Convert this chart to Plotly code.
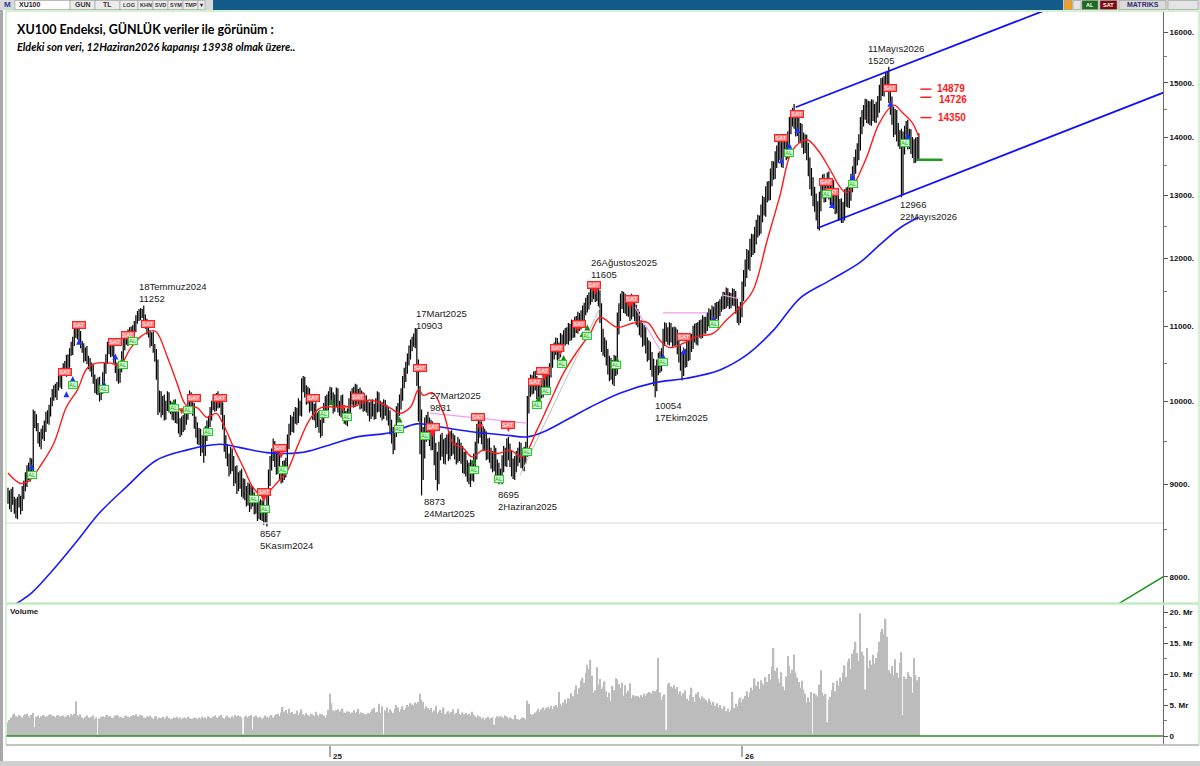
import numpy as np
import pandas as pd
import plotly.graph_objects as go

LAST_DAY = "2026-06-12"
BAYRAM_2026 = ["2026-05-26", "2026-05-27", "2026-05-28", "2026-05-29"]
FIRST_OPEN = 8900

# daily closes, month by month
close_2024 = [
    8850, 8780, 8900, 8820, 8750, 8680, 8800,
    8820, 8750, 8900, 8980, 9050, 9180, 9100, 9250, 9200, 9820, 9750, 9680, 9550, 9500, 9620, 9580, 9700, 9820, 9780, 9900, 10000, 10080,
    10150, 10100, 10200, 10300, 10250, 10380, 10450, 10400, 10550, 10500, 10650, 10700, 10800, 10950, 10900, 11000, 10850, 10750, 10700, 10600, 10650, 10550, 10500,
    10450, 10400, 10300, 10200, 10150, 10250, 10080, 10150, 10300, 10450, 10550, 10700, 10750, 10650, 10700, 10550, 10450, 10350, 10300, 10450,
    10600, 10750, 10850, 10800, 10900, 10850, 10950, 10900, 11000, 11100, 11150, 11200, 11180, 11220, 11100, 11050, 10950, 10900, 10800, 10850, 10700, 10600, 10400,
    9950, 10050, 9900, 10000, 9850, 9950, 10050, 9950, 9900, 9850, 9950, 9800, 9850, 9700, 9650, 9750, 9700, 9800, 9850, 9950, 10050, 9980,
    9900, 9750, 9650, 9550, 9600, 9450, 9500, 9400, 9600, 9700, 9750, 9850, 9950, 10000, 9950, 10050, 10000, 10020, 9900, 9750, 9500,
    9400, 9300, 9200, 9350, 9250, 9100, 9150, 9000, 9050, 9100, 8950, 9000, 8900, 8850, 8950, 8800, 8900, 8850, 8750, 8800, 8700, 8750, 8680,
    8750, 8650, 8620, 8800, 9050, 9250, 9350, 9450, 9300, 9200, 9350, 9150, 9100, 9200, 9150, 9250, 9500, 9650, 9750, 9700, 9800,
    9850, 9800, 9950, 9900, 10200, 10250, 10150, 10050, 10100, 9950, 10000, 9850, 9900, 9750, 9800, 9700, 9650, 9800, 9900, 10000, 9950, 10050,
]
close_2025 = [
    10100, 10050, 9950, 10000, 10100, 9950, 9900, 10000, 9850, 9800, 9780, 9850, 9950, 10050, 10100, 10000, 10150, 10050, 10100, 10000, 10050, 9950, 10000,
    9950, 9900, 9850, 9950, 9900, 9850, 9950, 10050, 9950, 9900, 9850, 9950, 9900, 9850, 9800, 9700, 9600, 9500, 9650, 9850,
    9900, 10000, 10100, 10250, 10350, 10450, 10550, 10650, 10750, 10800, 10880, 10850, 10400, 10000, 9650, 9300, 9500, 9650, 9750, 9700, 9600,
    9650, 9550, 9400, 9250, 9150, 9400, 9500, 9450, 9350, 9450, 9500, 9400, 9550, 9450, 9500, 9400, 9350, 9450, 9400, 9350, 9250, 9300,
    9200, 9150, 9100, 9200, 9150, 9250, 9400, 9600, 9700, 9650, 9600, 9500, 9550, 9400, 9450, 9350, 9300, 9250, 9350, 9200, 9150, 9100,
    9100, 9250, 9350, 9300, 9450, 9400, 9300, 9200, 9150, 9250, 9300, 9350, 9400, 9300, 9250, 9350, 9400, 9950, 10150, 10250, 10200,
    10300, 10250, 10150, 10100, 10200, 10150, 10250, 10300, 10350, 10250, 10400, 10550, 10650, 10700, 10750, 10650, 10700, 10800, 10750, 10850, 10900, 10850, 10950,
    10900, 11000, 10950, 11050, 11000, 11100, 11050, 11150, 11200, 11250, 11300, 11350, 11400, 11450, 11500, 11550, 11450, 11500, 11400, 11200, 10850,
    10750, 10700, 10600, 10500, 10400, 10450, 10350, 10500, 10450, 11000, 11200, 11350, 11400, 11300, 11350, 11250, 11300, 11200, 11350, 11250, 11200, 11150,
    11100, 11000, 10950, 10850, 10900, 10750, 10650, 10700, 10550, 10450, 10350, 10250, 10450, 10550, 10500, 10600, 10850, 10950, 10900, 10850, 10950, 10900, 10850,
    10900, 10850, 10750, 10650, 10550, 10450, 10600, 10550, 10700, 10650, 10750, 10800, 10900, 10950, 10850, 10950, 11000, 10950, 11050, 11000,
    11050, 11100, 11150, 11100, 11200, 11150, 11250, 11200, 11250, 11300, 11350, 11400, 11350, 11450, 11400, 11350, 11400, 11450, 11400, 11300, 11200, 11150, 11250,
]
close_2026 = [
    11500, 11700, 11850, 12000, 11950, 12150, 12250, 12200, 12350, 12450, 12550, 12500, 12700, 12850, 12800, 13000, 13100, 13050, 13300, 13450, 13400, 13600,
    13700, 13850, 13750, 13600, 13800, 13900, 13750, 13950, 14200, 14350, 14450, 14300, 14150, 14250, 14050, 14100, 13950, 13850, 13900, 13750,
    13500, 13300, 13150, 13000, 12900, 12750, 12600, 12900, 13100, 13200, 13050, 13150, 13250, 13100, 13000, 13100, 12950, 12850, 12900, 12750, 12800, 12700,
    12750, 12950, 13000, 12950, 13050, 13200, 13350, 13500, 13650, 13750, 13900, 14200, 14350, 14450, 14550, 14400, 14500, 14350, 14550, 14450, 14400, 14500,
    14600, 14800, 14950, 14900, 15000, 15050, 15150, 14800, 14600, 14400, 14200, 14350, 14100, 14000, 13950, 13200, 13850,
    14050, 14150, 13950, 14000, 13850, 13800, 13700, 13850, 13750, 13938,
]

# wick above max(open, close) and below min(open, close), in points
wick_up_2024 = [
    60, 80, 50, 70, 40, 90, 60,
    70, 50, 80, 60, 90, 40, 70, 60, 50, 80, 60, 90, 50, 70, 40, 80, 60, 50, 70, 60, 50, 80,
    60, 80, 50, 70, 90, 60, 50, 80, 60, 70, 50, 90, 60, 80, 50, 70, 60, 90, 50, 70, 60, 80, 50,
    70, 60, 80, 50, 90, 60, 70, 50, 80, 60, 70, 90, 50, 60, 80, 70, 50, 60, 90, 70,
    60, 80, 50, 70, 60, 90, 50, 70, 80, 60, 70, 50, 60, 32, 80, 70, 60, 90, 50, 70, 80, 60, 90,
    150, 90, 80, 70, 90, 60, 80, 70, 60, 90, 70, 80, 60, 70, 90, 60, 80, 70, 60, 80, 90, 70,
    70, 80, 60, 90, 70, 60, 80, 70, 90, 60, 70, 80, 60, 90, 70, 60, 80, 70, 60, 90, 80,
    80, 70, 60, 90, 70, 80, 60, 70, 90, 60, 80, 70, 60, 80, 70, 60, 90, 70, 60, 80, 70, 60, 80,
    70, 80, 60, 90, 120, 80, 70, 90, 60, 80, 70, 90, 60, 70, 80, 60, 90, 70, 80, 60, 70,
    80, 70, 90, 60, 100, 80, 70, 60, 90, 70, 80, 60, 70, 90, 60, 80, 70, 60, 80, 70, 90, 80,
]
wick_dn_2024 = [
    70, 60, 90, 50, 80, 60, 70,
    60, 90, 50, 70, 60, 80, 50, 70, 90, 60, 80, 50, 70, 60, 90, 50, 70, 80, 60, 70, 90, 60,
    70, 50, 80, 60, 70, 90, 50, 60, 80, 70, 60, 50, 90, 70, 60, 80, 70, 50, 60, 90, 70, 60, 80,
    60, 80, 70, 90, 60, 70, 80, 60, 50, 70, 90, 60, 80, 70, 60, 50, 80, 90, 70, 60,
    70, 60, 80, 50, 70, 60, 90, 70, 50, 80, 60, 70, 90, 60, 70, 80, 60, 50, 90, 70, 60, 80, 120,
    120, 90, 100, 70, 90, 80, 70, 90, 60, 80, 90, 70, 80, 100, 90, 70, 80, 60, 90, 80, 70, 90,
    80, 90, 100, 80, 90, 120, 80, 150, 70, 90, 80, 70, 90, 60, 80, 70, 90, 80, 70, 100, 120,
    100, 90, 110, 80, 100, 120, 90, 110, 80, 100, 90, 110, 80, 100, 90, 110, 80, 100, 90, 80, 110, 90, 80,
    90, 100, 53, 90, 80, 70, 90, 80, 100, 90, 80, 100, 90, 80, 100, 70, 80, 90, 70, 80, 90,
    80, 90, 70, 80, 90, 80, 100, 90, 80, 90, 70, 80, 90, 80, 70, 90, 100, 80, 70, 90, 80, 70,
]
wick_up_2025 = [
    90, 80, 70, 90, 80, 70, 60, 80, 90, 70, 80, 60, 90, 80, 70, 90, 80, 70, 60, 80, 90, 70, 80,
    80, 70, 90, 60, 80, 70, 90, 80, 70, 60, 90, 80, 70, 60, 80, 90, 70, 80, 60, 90,
    80, 90, 70, 80, 90, 70, 80, 90, 70, 60, 23, 100, 120, 150, 200, 250, 180, 150, 81, 120, 100,
    120, 100, 110, 90, 130, 100, 90, 110, 80, 100, 90, 110, 80, 90, 100, 80, 90, 110, 80, 90, 100, 80,
    90, 80, 100, 90, 80, 110, 100, 120, 90, 80, 100, 90, 110, 80, 90, 100, 80, 90, 110, 80, 90, 100,
    80, 90, 100, 80, 90, 110, 80, 90, 100, 80, 90, 80, 100, 90, 80, 90, 100, 120, 110, 100, 90,
    90, 100, 80, 90, 100, 80, 90, 110, 80, 90, 100, 110, 90, 80, 100, 90, 80, 110, 90, 100, 80, 90, 100,
    90, 100, 80, 90, 100, 110, 90, 80, 100, 90, 110, 100, 90, 100, 110, 40, 100, 105, 110, 120, 130,
    120, 100, 110, 90, 100, 120, 90, 110, 100, 200, 130, 120, 110, 100, 120, 90, 110, 100, 120, 100, 90, 110,
    100, 110, 90, 100, 120, 90, 100, 110, 90, 100, 110, 120, 100, 90, 110, 100, 120, 110, 100, 90, 110, 100, 90,
    100, 90, 110, 100, 90, 100, 110, 90, 100, 110, 90, 100, 110, 90, 100, 110, 90, 100, 110, 90,
    90, 100, 110, 90, 100, 80, 90, 100, 110, 90, 80, 100, 90, 110, 100, 90, 80, 100, 90, 110, 100, 90, 100,
]
wick_dn_2025 = [
    80, 90, 100, 80, 70, 90, 80, 100, 90, 80, 70, 90, 80, 100, 90, 80, 70, 90, 80, 100, 90, 80, 70,
    90, 80, 100, 70, 90, 80, 70, 90, 80, 100, 90, 70, 80, 90, 100, 110, 120, 150, 100, 90,
    90, 80, 100, 90, 80, 100, 90, 80, 100, 90, 80, 150, 200, 250, 300, 427, 250, 200, 150, 180, 150,
    200, 150, 180, 200, 220, 150, 120, 130, 110, 120, 100, 130, 110, 120, 100, 110, 120, 100, 130, 110, 120, 130,
    110, 120, 100, 130, 110, 120, 100, 110, 120, 100, 130, 110, 100, 120, 110, 100, 120, 110, 100, 120, 110, 100,
    80, 100, 110, 90, 100, 120, 100, 110, 90, 100, 110, 90, 100, 110, 90, 100, 110, 80, 100, 90, 110,
    100, 110, 120, 100, 90, 110, 100, 90, 110, 120, 100, 90, 110, 100, 90, 110, 100, 120, 90, 100, 110, 90, 100,
    100, 90, 110, 100, 90, 100, 110, 90, 100, 110, 90, 100, 110, 90, 100, 110, 100, 90, 110, 150, 200,
    150, 120, 130, 150, 140, 120, 130, 150, 120, 100, 110, 120, 100, 110, 120, 100, 110, 120, 100, 110, 120, 130,
    110, 120, 100, 130, 110, 120, 130, 110, 140, 130, 150, 196, 120, 110, 130, 110, 100, 120, 110, 100, 110, 120, 130,
    120, 110, 130, 140, 150, 180, 120, 110, 100, 120, 110, 100, 110, 120, 100, 110, 100, 120, 110, 100,
    100, 110, 100, 120, 100, 110, 100, 90, 110, 100, 90, 110, 100, 90, 110, 100, 90, 100, 110, 120, 150, 130, 100,
]
wick_up_2026 = [
    150, 120, 130, 140, 120, 150, 130, 120, 140, 150, 130, 120, 150, 140, 120, 150, 130, 140, 150, 130, 120, 150,
    150, 130, 140, 160, 150, 130, 140, 150, 160, 130, 80, 150, 140, 160, 130, 150, 140, 130, 150, 140,
    150, 140, 160, 150, 140, 130, 150, 160, 140, 150, 160, 140, 130, 150, 140, 160, 150, 140, 130, 150, 140, 150,
    140, 150, 130, 140, 150, 160, 140, 150, 130, 140, 150, 160, 140, 130, 150, 140, 160, 150, 140, 130, 150, 140,
    150, 160, 140, 150, 130, 140, 55, 160, 150, 140, 150, 160, 140, 150, 120, 200, 250,
    150, 140, 160, 150, 140, 150, 160, 140, 150, 130,
]
wick_dn_2026 = [
    120, 140, 130, 150, 120, 140, 130, 150, 120, 140, 130, 150, 120, 140, 130, 150, 120, 140, 130, 150, 140, 130,
    140, 150, 160, 130, 140, 150, 160, 130, 140, 150, 160, 150, 140, 130, 150, 160, 140, 150, 130, 160,
    180, 200, 160, 180, 170, 160, 150, 170, 160, 150, 170, 160, 150, 170, 160, 150, 170, 160, 150, 170, 160, 150,
    150, 160, 140, 150, 160, 140, 150, 160, 140, 150, 160, 140, 150, 160, 140, 150, 160, 140, 150, 160, 140, 150,
    150, 160, 140, 150, 160, 140, 150, 180, 200, 180, 200, 160, 180, 170, 160, 234, 200,
    160, 150, 170, 160, 150, 170, 160, 150, 170, 160,
]

# volume, milyar TL
volume_2024 = [
    2.2, 2.6, 3.0, 3.4, 3.6, 3.2, 3.1,
    3.4, 3.2, 3.0, 3.3, 3.5, 3.6, 3.2, 3.0, 3.4, 3.7, 1.4, 3.1, 3.3, 2.9, 3.2, 3.4, 3.3, 3.1, 3.2, 3.4, 3.5, 3.3,
    3.2, 3.0, 3.3, 3.4, 3.1, 3.2, 3.3, 3.0, 3.2, 3.4, 3.1, 3.5, 3.3, 3.6, 5.6, 3.4, 3.2, 3.5, 3.0, 2.8, 3.1, 3.3, 3.0,
    2.9, 3.1, 3.3, 2.7, 3.0, 0.2, 2.8, 3.1, 3.2, 3.0, 3.3, 3.4, 3.1, 3.2, 2.9, 3.0, 3.3, 3.4, 3.2, 3.0,
    3.1, 2.9, 3.2, 3.3, 3.1, 3.0, 3.2, 3.4, 3.3, 3.5, 3.2, 3.1, 3.4, 3.3, 3.0, 2.9, 3.2, 3.1, 3.3, 3.0, 2.8, 3.1, 3.2,
    2.7, 3.0, 2.9, 3.1, 2.8, 3.0, 3.2, 2.9, 2.7, 2.8, 3.0, 2.9, 3.1, 2.8, 3.0, 2.7, 2.9, 3.0, 2.8, 3.1, 2.9, 2.8,
    2.8, 3.0, 2.9, 2.7, 3.0, 2.8, 3.1, 2.9, 3.0, 2.8, 3.2, 3.0, 2.9, 3.1, 3.3, 3.0, 2.9, 3.2, 3.4, 3.0, 2.8,
    3.1, 3.3, 3.0, 2.9, 3.2, 3.0, 3.4, 3.1, 3.3, 3.2, 3.0, 0.3, 3.1, 3.3, 3.0, 3.2, 3.4, 1.0, 3.1, 3.3, 3.0, 2.9, 3.1,
    2.8, 3.0, 3.3, 3.1, 2.9, 3.2, 3.4, 3.0, 3.3, 3.5, 3.6, 3.2, 3.8, 4.7, 3.9, 4.2, 3.6, 4.4, 3.7, 3.9, 3.5,
    3.6, 4.1, 3.4, 3.8, 4.3, 3.5, 3.3, 3.7, 3.4, 3.2, 3.6, 3.5, 3.3, 3.9, 3.4, 3.2, 3.6, 3.5, 3.3, 2.9, 3.4, 4.2,
]
volume_2025 = [
    6.8, 5.3, 4.1, 4.0, 4.2, 4.3, 3.9, 4.1, 4.4, 3.8, 3.7, 4.0, 3.9, 3.6, 3.8, 4.2, 3.7, 3.9, 4.4, 3.6, 3.8, 3.7, 3.5,
    3.5, 3.7, 3.6, 3.9, 4.3, 4.5, 3.8, 3.9, 5.2, 3.7, 4.8, 0.3, 4.1, 4.6, 3.8, 4.3, 4.0, 3.7, 4.4, 5.0,
    4.6, 3.9, 4.3, 4.8, 4.2, 4.5, 5.0, 4.7, 5.3, 5.1, 4.9, 5.4, 5.2, 5.5, 6.8, 5.8, 5.5, 4.4, 4.8, 4.5, 4.2,
    4.5, 3.8, 4.1, 4.9, 3.6, 3.9, 4.2, 3.7, 4.6, 3.5, 3.8, 4.0, 3.6, 3.9, 4.3, 3.5, 3.7, 4.4, 3.6, 3.4, 3.8, 3.5,
    3.7, 3.4, 3.6, 3.3, 3.9, 3.5, 3.2, 3.0, 3.3, 3.1, 2.8, 3.0, 2.6, 2.9, 3.1, 2.7, 2.9, 3.0, 1.8, 2.9, 3.2, 3.0,
    3.2, 3.1, 2.9, 3.3, 3.1, 2.8, 3.0, 2.9, 2.7, 3.4, 2.8, 2.7, 2.6, 2.8, 3.0, 2.9, 2.7, 5.7, 5.2, 3.6, 3.4,
    3.5, 3.8, 4.0, 4.4, 3.9, 4.3, 4.6, 4.2, 4.5, 4.7, 4.4, 4.9, 4.3, 4.8, 5.0, 4.6, 7.1, 5.2, 4.8, 5.4, 5.9, 5.3, 6.1,
    6.0, 6.9, 6.4, 7.5, 8.2, 6.8, 7.7, 8.9, 9.4, 8.6, 10.2, 11.5, 10.8, 12.3, 9.7, 7.0, 7.4, 11.1, 8.3, 9.2, 7.6,
    7.9, 8.8, 7.2, 6.3, 7.0, 5.6, 8.1, 7.4, 9.3, 9.1, 8.4, 7.8, 8.6, 6.5, 8.2, 6.9, 7.3, 8.5, 6.1, 6.6, 6.4, 6.5,
    6.4, 6.2, 6.6, 6.3, 6.8, 6.5, 6.9, 7.1, 7.0, 6.8, 7.3, 7.2, 7.5, 12.6, 7.0, 5.8, 6.4, 6.7, 1.0, 8.3, 8.6, 8.0, 7.8,
    8.2, 7.6, 7.9, 6.8, 7.2, 6.5, 6.9, 7.4, 6.0, 5.7, 6.6, 7.8, 6.3, 5.5, 6.8, 7.1, 6.2, 5.9, 6.4, 6.1,
    5.8, 5.4, 6.0, 5.6, 5.1, 5.5, 4.9, 5.3, 4.6, 5.0, 4.5, 4.3, 4.8, 4.0, 4.4, 3.9, 4.2, 7.1, 4.5, 5.2, 4.8, 5.9, 6.2,
]
volume_2026 = [
    5.5, 6.0, 6.5, 7.2, 6.3, 7.0, 7.8, 7.4, 9.3, 8.1, 8.8, 7.6, 9.0, 8.5, 8.2, 9.5, 8.7, 10.0, 9.1, 11.2, 14.2, 10.5,
    11.0, 9.2, 8.6, 10.3, 8.0, 7.4, 9.6, 12.9, 11.3, 10.1, 10.7, 13.1, 10.2, 9.4, 8.7, 7.8, 8.9, 7.5, 6.8, 5.4,
    6.2, 5.5, 7.1, 0.4, 6.9, 6.6, 6.4, 8.3, 10.6, 7.0, 6.5, 6.8, 2.2, 5.9, 6.3, 7.4, 8.6, 7.2, 8.9, 8.1, 9.4, 8.8,
    10.2, 11.4, 9.5, 12.0, 12.5, 10.8, 13.3, 14.0, 15.2, 13.4, 12.1, 19.8, 13.6, 13.0, 7.5, 14.2, 11.0, 12.2, 11.5, 13.1, 11.7, 12.6,
    13.5, 15.2, 16.8, 17.3, 16.5, 18.9, 16.0, 10.6, 10.1, 11.3, 9.8, 12.4, 10.2, 9.4, 11.8, 13.5, 3.4,
    9.6, 9.2, 10.3, 9.8, 9.5, 7.0, 12.6, 9.8, 9.0, 9.5,
]

# moving averages (bar number, level)
red_ma_bar = [0, 8, 14, 20, 29, 37, 44, 50, 56, 65, 71, 77, 84, 93, 101, 107, 113, 120, 126, 132, 136, 143, 149,
              155, 160, 164, 170, 177, 183, 191, 198, 210, 221, 229, 242, 248, 255, 260, 263, 269, 276, 282, 288,
              294, 301, 310, 318, 326, 335, 343, 352, 360, 369, 375, 386, 396, 405, 413, 419, 428, 436, 447, 455,
              464, 472, 481, 489, 497, 506, 513, 521, 527, 531, 535, 544, 552, 561, 567, 573, 577]
red_ma_val = [9130, 9010, 9050, 9200, 9480, 9930, 10150, 10430, 10500, 10500, 10470, 10680, 10860, 10940, 10580,
              10240, 9950, 9920, 9800, 9850, 9730, 9430, 9200, 8970, 8880, 8900, 9010, 9160, 9430, 9770, 9920, 9930,
              9950, 10020, 9920, 9850, 9930, 10150, 10080, 10110, 9850, 9480, 9430, 9320, 9400, 9360, 9400, 9320,
              9640, 9980, 10370, 10640, 10910, 11130, 10990, 11050, 11060, 10810, 10710, 10770, 10860, 10910, 11090,
              11280, 11520, 12280, 12990, 13770, 13950, 13770, 13420, 13140, 13040, 13140, 13650, 14250, 14580,
              14430, 14250, 14000]
blue_ma_bar = [0, 7, 15, 30, 44, 58, 75, 94, 113, 134, 147, 164, 185, 200, 221, 242, 259, 274, 295, 316, 329, 339,
               354, 369, 388, 409, 430, 451, 468, 485, 502, 521, 540, 552, 565, 577]
blue_ma_val = [7680, 7750, 7840, 8100, 8380, 8680, 8970, 9280, 9400, 9470, 9430, 9370, 9370, 9440, 9560, 9610,
               9720, 9680, 9620, 9580, 9560, 9620, 9770, 9930, 10110, 10240, 10300, 10410, 10610, 10950, 11410,
               11670, 11940, 12200, 12470, 12640]

# AL / SAT signals (bar number, level)
sat_bar = [45, 36, 68, 76, 89, 118, 134, 162, 172, 193, 222, 261, 269, 298, 317, 334, 339, 348, 362, 371, 395, 428,
           490, 500, 518, 522, 559]
sat_val = [11020, 10380, 10790, 10880, 11035, 10050, 10050, 8910, 9420, 10050, 10060, 10430, 9680, 9810, 9700,
           10250, 10390, 10710, 11040, 11600, 11390, 10850, 13990, 14420, 13220, 13050, 14900]
al_bar = [15, 41, 61, 73, 79, 105, 114, 127, 156, 163, 174, 200, 215, 248, 264, 295, 311, 329, 335, 341, 351, 367,
          385, 415, 447, 495, 519, 535, 568]
al_val = [9107, 10210, 10160, 10474, 10800, 9920, 9890, 9620, 8830, 8720, 9165, 9840, 9810, 9660, 9570, 9165, 9060,
          9380, 9954, 10130, 10490, 10870, 10474, 10520, 11030, 13720, 13020, 13190, 13900]
blue_up_bar = [15, 37, 41, 45, 61, 68, 415, 428, 447, 490, 495, 500, 522, 535, 559, 570]
blue_up_val = [9240, 10130, 10330, 10830, 10260, 10630, 10630, 10700, 11150, 13640, 13900, 14180, 12890, 13360,
               14660, 14070]
red_dn_bar = [88, 110, 117, 133, 162, 173, 193, 212, 222, 261, 269, 299, 317, 334, 340, 350, 361, 372, 394]
red_dn_val = [10980, 9840, 9980, 9950, 8800, 9300, 10000, 9880, 9990, 10370, 9560, 9640, 9620, 10190, 10275, 10610,
              10925, 11460, 11250]
green_up_bar = [72, 105, 126, 174, 205, 248, 295, 311, 329, 336, 341, 352, 364, 367, 386]
green_up_val = [10570, 10030, 9700, 9240, 10030, 9810, 9300, 9120, 9440, 10070, 10210, 10610, 10940, 11030, 10580]

# drawn trend lines: (bar0, level0, bar1, level1, colour, width)
trend_lines = [
    (499, 14540, 700, 17010, "#1010ff", 1.8),
    (513, 12470, 735, 14850, "#1010ff", 1.8),
    (698, 7680, 735, 8032, "#149414", 1.4),
    (324.4, 9107, 375, 11264, "#c0c0c0", 1),
    (267.3, 9853, 328.8, 9730, "#f29cf2", 1.2),
    (397.2, 11278, 413, 10678, "#f29cf2", 1.2),
    (415, 11194, 442.8, 11194, "#f29cf2", 1.2),
    (453, 11450, 462.5, 11400, "#f29cf2", 1.2),
]
red_levels = [14879, 14726, 14350]
green_level = 13600
low_level = 8567

labels = [
    (81.7, 11690, "18Temmuz2024<br>11252"),
    (158.4, 8534, "8567<br>5Kasım2024"),
    (257.2, 11290, "17Mart2025<br>10903"),
    (266.1, 10170, "27Mart2025<br>9831"),
    (262.3, 8890, "8873<br>24Mart2025"),
    (309.0, 8970, "8695<br>2Haziran2025"),
    (368.0, 12050, "26Ağustos2025<br>11605"),
    (408.6, 10043, "10054<br>17Ekim2025"),
    (543.5, 15820, "11Mayıs2026<br>15205"),
    (563.8, 12970, "12966<br>22Mayıs2026"),
]

close = np.array(close_2024 + close_2025 + close_2026, dtype=float)
wick_up = np.array(wick_up_2024 + wick_up_2025 + wick_up_2026, dtype=float)
wick_dn = np.array(wick_dn_2024 + wick_dn_2025 + wick_dn_2026, dtype=float)
volume = np.array(volume_2024 + volume_2025 + volume_2026, dtype=float)
N = len(close)
assert len(wick_up) == N and len(wick_dn) == N and len(volume) == N, (N, len(wick_up), len(wick_dn), len(volume))

dates = pd.bdate_range(end=LAST_DAY, periods=N, freq="C", holidays=BAYRAM_2026)
bar = np.arange(N)
opn = np.r_[FIRST_OPEN, close[:-1]]
high = np.maximum(opn, close) + wick_up
low = np.minimum(opn, close) - wick_dn
bar_25 = int(np.argmax(dates.year == 2025))
bar_26 = int(np.argmax(dates.year == 2026))

# page geometry (pixels) -> paper coords, for the frame/toolbar chrome only
W, H = 1200, 766
ML, MR, MT, MB = 6, 37, 12, 21
def px(x): return (x - ML) / (W - ML - MR)
def py(y): return (H - MB - y) / (H - MT - MB)

X_LO, X_HI = -1.27, 731.7
FONT = "Liberation Sans"

fig = go.Figure()

fig.add_trace(go.Scatter(x=[X_LO, X_HI], y=[low_level, low_level], mode="lines",
                         line=dict(color="#e6e6e6", width=1.5), hoverinfo="skip"))
for b0, v0, b1, v1, col, w in trend_lines:
    fig.add_trace(go.Scatter(x=[b0, b1], y=[v0, v1], mode="lines",
                             line=dict(color=col, width=w), hoverinfo="skip"))

fig.add_trace(go.Scatter(x=blue_ma_bar, y=blue_ma_val, mode="lines", line_shape="spline",
                         line=dict(color="#1a1aff", width=1.6), hoverinfo="skip"))

fig.add_trace(go.Ohlc(
    x=bar, open=opn, high=high, low=low, close=close,
    increasing_line_color="black", decreasing_line_color="black",
    line_width=1.2, tickwidth=0.25, hoverinfo="skip",
))

fig.add_trace(go.Scatter(x=red_ma_bar, y=red_ma_val, mode="lines", line_shape="spline",
                         line=dict(color="#ff1a1a", width=1.4), hoverinfo="skip"))

for lv in red_levels:
    fig.add_trace(go.Scatter(x=[578, 585], y=[lv, lv], mode="lines",
                             line=dict(color="#ff2020", width=1.5), hoverinfo="skip"))
fig.add_trace(go.Scatter(x=[576, 592], y=[green_level, green_level], mode="lines",
                         line=dict(color="#1f9a1f", width=2.5), hoverinfo="skip"))

for bx, by, sym, col in [(blue_up_bar, blue_up_val, "arrow-up", "#2030ff"),
                         (red_dn_bar, red_dn_val, "arrow-down", "#ff2020"),
                         (green_up_bar, green_up_val, "arrow-up", "#138a13")]:
    fig.add_trace(go.Scatter(x=bx, y=by, mode="markers", hoverinfo="skip",
                             marker=dict(symbol=sym, size=6, color=col, line_width=0)))

fig.add_trace(go.Bar(x=bar, y=volume, xaxis="x2", yaxis="y2", marker_color="#bcbcbc",
                     marker_line_width=0, hoverinfo="skip"))
fig.add_trace(go.Scatter(x=[X_LO, X_HI], y=[0, 0], xaxis="x2", yaxis="y2", mode="lines",
                         line=dict(color="#2a8a2a", width=1.5), hoverinfo="skip"))

ann = []
for bx, lv, txt in labels:
    ann.append(dict(x=bx, y=np.log10(lv), xref="x", yref="y", text=txt, showarrow=False,
                    xanchor="left", yanchor="top", align="left",
                    font=dict(family=FONT, size=9.5, color="#1a1a1a")))
for lv, dx, dy in zip(red_levels, [0, 2, 1], [1, -2, 0]):
    ann.append(dict(x=587, y=np.log10(lv), xref="x", yref="y", text=f"<b>{lv}</b>", showarrow=False,
                    xanchor="left", yanchor="middle", xshift=dx, yshift=dy,
                    font=dict(family=FONT, size=10, color="#ff1a1a")))
for bx, lv in zip(sat_bar, sat_val):
    ann.append(dict(x=bx, y=np.log10(lv), xref="x", yref="y", text="SAT", showarrow=False,
                    bgcolor="#ff7a7a", bordercolor="#ff2020", borderwidth=1, borderpad=0,
                    font=dict(family=FONT, size=6, color="white")))
for bx, lv in zip(al_bar, al_val):
    ann.append(dict(x=bx, y=np.log10(lv), xref="x", yref="y", text="AL", showarrow=False,
                    bgcolor="#d6ffd6", bordercolor="#22d022", borderwidth=1, borderpad=0,
                    font=dict(family=FONT, size=6, color="#139a13")))

ann += [
    dict(x=px(15), y=py(30), xref="paper", yref="paper", showarrow=False, xanchor="left", yanchor="middle",
         text="<b>XU100 Endeksi, GÜNLÜK veriler ile görünüm :</b>",
         font=dict(family="Lato", size=12.5, color="black")),
    dict(x=px(15), y=py(46), xref="paper", yref="paper", showarrow=False, xanchor="left", yanchor="middle",
         text="<b><i>Eldeki son veri, 12Haziran2026 kapanışı 13938 olmak üzere..</i></b>",
         font=dict(family="Lato", size=10.8, color="black")),
    dict(x=px(8), y=py(611), xref="paper", yref="paper", showarrow=False, xanchor="left", yanchor="middle",
         text="<b>Volume</b>", font=dict(family=FONT, size=8, color="#222")),
]
for b, t in [(bar_25, "25"), (bar_26, "26")]:
    ann.append(dict(x=b, y=py(756), xref="x2", yref="paper", text=f"<b>{t}</b>", showarrow=False,
                    xanchor="left", yanchor="middle", xshift=1,
                    font=dict(family=FONT, size=8, color="#222")))

shapes = []
for b in (bar_25, bar_26):
    shapes.append(dict(type="line", xref="x2", yref="paper", x0=b, x1=b, y0=py(746), y1=py(757),
                       line=dict(color="#555", width=1)))
# window frame and panel borders
shapes += [
    dict(type="rect", xref="paper", yref="paper", x0=px(0), x1=px(3), y0=py(766), y1=py(10),
         fillcolor="#a8a8a8", line_width=0),
    dict(type="rect", xref="paper", yref="paper", x0=px(0), x1=px(1200), y0=py(766), y1=py(761),
         fillcolor="#cfcfcf", line_width=0),
    dict(type="rect", xref="paper", yref="paper", x0=px(6), x1=px(1199), y0=py(603), y1=py(11),
         line=dict(color="#a6e3a6", width=1)),
    dict(type="rect", xref="paper", yref="paper", x0=px(6), x1=px(1199), y0=py(745), y1=py(604),
         line=dict(color="#a6e3a6", width=1)),
    dict(type="line", xref="paper", yref="paper", x0=px(6), x1=px(1199), y0=py(745), y1=py(745),
         line=dict(color="#b8b8b8", width=1.5)),
]
# toolbar strip
shapes += [
    dict(type="rect", xref="paper", yref="paper", x0=px(0), x1=px(1200), y0=py(10), y1=py(0),
         fillcolor="#d8d8d8", line_width=0),
    dict(type="rect", xref="paper", yref="paper", x0=px(213), x1=px(1063), y0=py(10), y1=py(0),
         fillcolor="#155b8a", line_width=0),
]
buttons = [(15, 70, "XU100", "white", "#222"), (70, 95, "GUN", "#ececec", "#333"), (95, 120, "TL", "#ececec", "#333"),
           (120, 138, "LOG", "#ececec", "#333"), (138, 153, "KHN", "#ececec", "#333"),
           (153, 168, "SVD", "#ececec", "#333"), (168, 183, "SYM", "#ececec", "#333"),
           (183, 198, "TMP", "#ececec", "#333"), (198, 205, "▾", "#ececec", "#333"),
           (1064, 1072, "", "#f0a020", "#fff"), (1073, 1081, "", "#e4e4e4", "#333"),
           (1082, 1098, "AL", "#1d6b1d", "white"), (1100, 1117, "SAT", "#7d0a0a", "white"),
           (1119, 1166, "MATRIKS", "#dcdcdc", "#2a2a6a"), (1168, 1198, "", "#e4e4e4", "#333")]
for x0, x1, t, bg, fg in buttons:
    shapes.append(dict(type="rect", xref="paper", yref="paper", x0=px(x0), x1=px(x1), y0=py(9.5), y1=py(0.5),
                       fillcolor=bg, line=dict(color="#9a9a9a", width=0.6)))
    if t:
        small = x1 - x0 < 20
        ann.append(dict(x=px((x0 + x1) / 2) if t != "XU100" else px(x0 + 2), y=py(5), xref="paper", yref="paper",
                        text=f"<b>{t}</b>", showarrow=False,
                        xanchor="center" if t != "XU100" else "left", yanchor="middle",
                        font=dict(family=FONT, size=5.5 if small else 7, color=fg)))
ann.append(dict(x=px(2), y=py(5), xref="paper", yref="paper", text="<b>M</b>", showarrow=False,
                xanchor="left", yanchor="middle", font=dict(family=FONT, size=8, color="#1a3aa0")))

price_ticks = [8000, 9000, 10000, 11000, 12000, 13000, 14000, 15000, 16000]
vol_ticks = [0, 5, 10, 15, 20]

fig.update_layout(
    width=W, height=H, margin=dict(l=ML, r=MR, t=MT, b=MB),
    paper_bgcolor="white", plot_bgcolor="white", showlegend=False,
    bargap=0.12, annotations=ann, shapes=shapes,
    xaxis=dict(domain=[0, 1], range=[X_LO, X_HI], anchor="y", showticklabels=False, showgrid=False,
               zeroline=False, ticks="", rangeslider=dict(visible=False)),
    yaxis=dict(domain=[py(603), 1], type="log", range=[np.log10(7739), np.log10(16413)], side="right",
               tickvals=price_ticks, ticktext=[f"{v}." for v in price_ticks],
               ticks="outside", ticklen=4, tickcolor="#555", showline=True, linecolor="#6a6a6a",
               showgrid=False, zeroline=False,
               minor=dict(tickvals=[v + 500 for v in price_ticks[:-1]], ticks="outside", ticklen=3,
                          tickcolor="#777"),
               tickfont=dict(family=FONT, size=8, color="#111", weight="bold")),
    xaxis2=dict(domain=[0, 1], range=[X_LO, X_HI], anchor="y2", matches="x", showticklabels=False,
                showgrid=False, zeroline=False, ticks=""),
    yaxis2=dict(domain=[0, py(605)], range=[-1.45, 21.13], side="right",
                tickvals=vol_ticks, ticktext=["0"] + [f"{v}. Mr" for v in vol_ticks[1:]],
                ticks="outside", ticklen=4, tickcolor="#555", showline=True, linecolor="#6a6a6a",
                showgrid=False, zeroline=False,
                minor=dict(tickvals=[2.5, 7.5, 12.5, 17.5], ticks="outside", ticklen=3, tickcolor="#777"),
                tickfont=dict(family=FONT, size=8, color="#111", weight="bold")),
)

# the page body has an 8px default margin; drop it so the figure sits at the window corner
fig.write_html("out.html", config={"displayModeBar": False},
               post_script="document.body.style.margin = '0px';")
